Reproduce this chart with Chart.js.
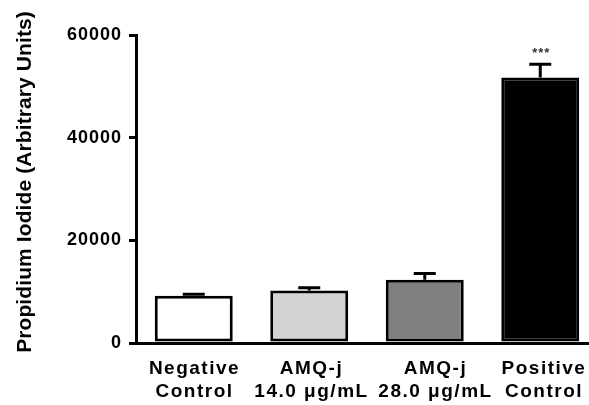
<!DOCTYPE html>
<html>
<head>
<meta charset="utf-8">
<script src="https://cdn.jsdelivr.net/npm/chart.js@4/dist/chart.umd.min.js"></script>
<style>
  html, body { margin: 0; padding: 0; background: #fff; overflow: hidden; }
  #wrap { width: 589px; height: 405px; overflow: hidden; position: relative; }
  #wrap canvas { position: absolute; left: 0; top: 0; }
</style>
</head>
<body>
<div id="wrap"><canvas id="c" width="600" height="405"></canvas></div>
<script>
// ---- data ----
const categories = [
  ['Negative', 'Control'],
  ['AMQ-j', '14.0 \u03bcg/mL'],
  ['AMQ-j', '28.0 \u03bcg/mL'],
  ['Positive', 'Control']
];
const meanValues = [9200, 10250, 12300, 51700];
const semValues = [300, 500, 1250, 2600];
const significance = ['', '', '', '***'];
const barColors = ['#ffffff', '#d4d4d4', '#808080', '#000000'];
const yTickValues = [0, 20000, 40000, 60000];
const yTitle = 'Propidium Iodide (Arbitrary Units)';

// styling only: small horizontal nudges of the category labels (px)
const labelNudge = [0, 1.5, 10, 3];

const FONT = '"Liberation Sans", Arial, sans-serif';

const errorBarPlugin = {
  id: 'errorBars',
  beforeDraw(chart) {
    chart.ctx.letterSpacing = '1px';   // y tick labels
  },
  afterDatasetsDraw(chart) {
    const ctx = chart.ctx;
    const meta = chart.getDatasetMeta(0);
    const y = chart.scales.y;
    ctx.save();
    ctx.letterSpacing = '0px';
    ctx.strokeStyle = '#000';
    ctx.lineWidth = 3;
    meta.data.forEach((bar, i) => {
      const yTop = y.getPixelForValue(meanValues[i] + semValues[i]);
      const yBar = y.getPixelForValue(meanValues[i]);
      const half = 11;
      ctx.beginPath();
      ctx.moveTo(bar.x, yBar);
      ctx.lineTo(bar.x, yTop);
      ctx.moveTo(bar.x - half, yTop);
      ctx.lineTo(bar.x + half, yTop);
      ctx.stroke();
      if (significance[i]) {
        ctx.letterSpacing = '1px';
        ctx.fillStyle = '#333';
        ctx.font = 'bold 13px ' + FONT;
        ctx.textAlign = 'center';
        ctx.textBaseline = 'middle';
        ctx.fillText(significance[i], bar.x + 1, yTop - 11);
        ctx.letterSpacing = '0px';
      }
    });
    ctx.restore();
  },
  afterDraw(chart) {
    const ctx = chart.ctx;
    // category labels
    const xs = chart.scales.x;
    ctx.save();
    ctx.letterSpacing = '1.5px';
    ctx.fillStyle = '#000';
    ctx.font = 'bold 19px ' + FONT;
    ctx.textAlign = 'center';
    ctx.textBaseline = 'alphabetic';
    categories.forEach((lines, i) => {
      const x = xs.getPixelForTick(i) + labelNudge[i] + 0.75;
      lines.forEach((t, j) => {
        ctx.fillText(t, x, xs.top + 31 + j * 23);
      });
    });
    ctx.restore();
    // y-axis title
    ctx.save();
    ctx.letterSpacing = '0.1px';
    ctx.fillStyle = '#000';
    ctx.font = 'bold 21px ' + FONT;
    ctx.textAlign = 'center';
    ctx.textBaseline = 'middle';
    ctx.translate(25, 182);
    ctx.rotate(-Math.PI / 2);
    ctx.fillText(yTitle, 0, 0);
    ctx.restore();
    ctx.letterSpacing = '0px';
  }
};

new Chart(document.getElementById('c'), {
  type: 'bar',
  data: {
    labels: categories,
    datasets: [{
      data: meanValues,
      backgroundColor: barColors,
      borderColor: '#000',
      borderWidth: 3,
      borderSkipped: false,
      barPercentage: 0.675,
      categoryPercentage: 1.0
    }]
  },
  options: {
    responsive: false,
    animation: false,
    events: [],
    layout: { padding: { top: 35, right: 2, left: 0, bottom: 0 } },
    plugins: { legend: { display: false }, tooltip: { enabled: false } },
    scales: {
      x: {
        afterFit(scale) { scale.height = 62; },
        grid: { display: false, drawTicks: false },
        border: { display: true, color: '#000', width: 3 },
        ticks: { display: false, autoSkip: false, maxRotation: 0 }
      },
      y: {
        min: 0,
        max: 60000,
        afterFit(scale) { scale.width = 136; },
        afterBuildTicks(scale) { scale.ticks = yTickValues.map(v => ({ value: v })); },
        grid: { drawOnChartArea: false, drawTicks: true, tickLength: 7, lineWidth: 3, color: '#000' },
        border: { display: true, color: '#000', width: 3 },
        ticks: {
          z: 0,
          color: '#000',
          padding: 7,
          font: { family: FONT, size: 18, weight: 'bold' },
          callback: (v) => String(v)
        },
        title: { display: false, text: yTitle }
      }
    }
  },
  plugins: [errorBarPlugin]
});
</script>
</body>
</html>
